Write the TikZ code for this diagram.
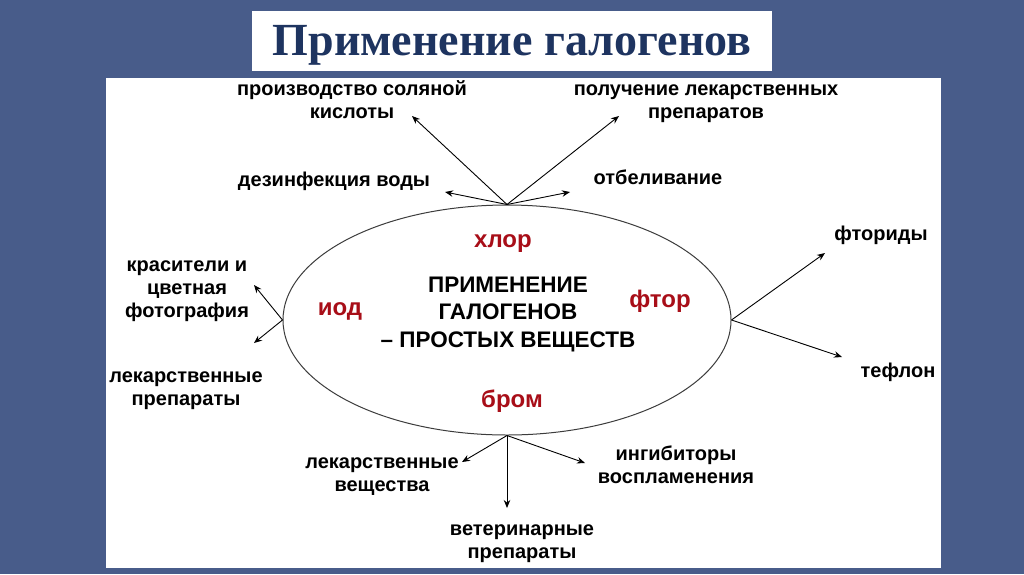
\documentclass[tikz,border=0pt]{standalone}
\usepackage{fontspec}
\setmainfont{Liberation Sans}
\newfontfamily\titlefont{Liberation Serif}
\usetikzlibrary{shapes.geometric,arrows.meta}
\definecolor{bgblue}{RGB}{72,92,138}
\definecolor{titlenavy}{RGB}{30,52,96}
\definecolor{hred}{RGB}{168,14,24}
\definecolor{ringgray}{RGB}{60,60,60}
\begin{document}
\begin{tikzpicture}[x=1pt,y=-1pt,
  lbl/.style={font=\bfseries\fontsize{20}{23}\selectfont, align=center, inner sep=0pt, anchor=base},
  hal/.style={font=\bfseries\fontsize{24}{28}\selectfont, text=hred, inner sep=0pt, anchor=base},
  ctr/.style={font=\bfseries\fontsize{22.5}{27.5}\selectfont, align=center, inner sep=0pt, anchor=base},
  arr/.style={-{Stealth[length=8pt,width=6.5pt]}, line width=0.9pt},
  ring/.style={ellipse, draw=ringgray, line width=1pt, minimum width=448pt, minimum height=230pt, inner sep=0pt}
]
\useasboundingbox (0,0) rectangle (1024,574);
\fill[bgblue] (0,0) rectangle (1024,574);
\fill[white] (106,78) rectangle (941,568);
\node[fill=white, minimum width=520pt, minimum height=60pt, inner sep=0pt] (titlebox) at (512,41) {};
\node[font=\titlefont\bfseries\fontsize{46}{50}\selectfont, text=titlenavy, inner sep=0pt, anchor=base] (title) at (512,55) {Применение галогенов};

\node[ring] (E) at (507,320) {};
\coordinate (Etop) at (E.north);
\coordinate (Ebot) at (E.south);
\coordinate (Eleft) at (E.west);
\coordinate (Eright) at (E.east);

% centre text (anchor = baseline of last line)
\node[ctr] (main) at (508,347) {ПРИМЕНЕНИЕ\\ГАЛОГЕНОВ\\– ПРОСТЫХ ВЕЩЕСТВ};
\node[hal] (cl) at (503,247) {хлор};
\node[hal] (io) at (340,315) {иод};
\node[hal] (fl) at (660,307) {фтор};
\node[hal] (br) at (512,407) {бром};

% labels (anchor = baseline of last line)
\node[lbl] (hcl) at (352,118) {производство соляной\\кислоты};
\node[lbl] (med1) at (706,118) {получение лекарственных\\препаратов};
\node[lbl] (water) at (334,186) {дезинфекция воды};
\node[lbl] (bleach) at (658,184) {отбеливание};
\node[lbl] (dyes) at (187,317) {красители и\\цветная\\фотография};
\node[lbl] (med2) at (186,405) {лекарственные\\препараты};
\node[lbl] (fluor) at (881,240) {фториды};
\node[lbl] (teflon) at (898,377) {тефлон};
\node[lbl] (med3) at (382,491) {лекарственные\\вещества};
\node[lbl] (inhib) at (676,483) {ингибиторы\\воспламенения};
\node[lbl] (vet) at (522,558) {ветеринарные\\препараты};

% arrow tips
\coordinate (t1) at (412,116);
\coordinate (t2) at (619,116);
\coordinate (t3) at (445,192);
\coordinate (t4) at (570,192);
\coordinate (t5) at (254,285);
\coordinate (t6) at (254,343);
\coordinate (t7) at (825,253);
\coordinate (t8) at (842,357);
\coordinate (t9) at (462,462);
\coordinate (t10) at (507,508);
\coordinate (t11) at (585,463);

\draw[arr] (Etop) -- (t1);
\draw[arr] (Etop) -- (t2);
\draw[arr] (Etop) -- (t3);
\draw[arr] (Etop) -- (t4);
\draw[arr] (Eleft) -- (t5);
\draw[arr] (Eleft) -- (t6);
\draw[arr] (Eright) -- (t7);
\draw[arr] (Eright) -- (t8);
\draw[arr] (Ebot) -- (t9);
\draw[arr] (Ebot) -- (t10);
\draw[arr] (Ebot) -- (t11);
\end{tikzpicture}
\end{document}
